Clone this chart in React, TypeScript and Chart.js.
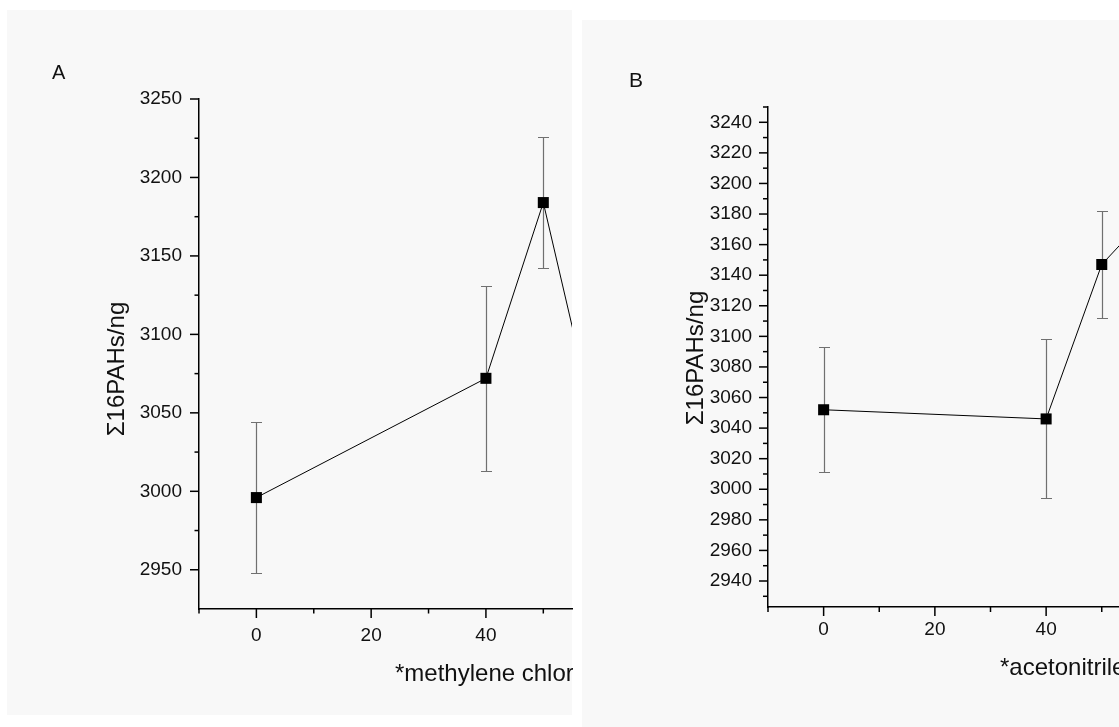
import { useEffect, useRef } from "react";
import { Chart, registerables } from "chart.js";

Chart.register(...registerables);

const FONT = "'Liberation Sans', Arial, Helvetica, sans-serif";

// ---------- Panel A : methylene chloride ----------
const A_DOSE = [0, 40, 50, 60];
const A_SUM = [2996, 3072, 3184, 3027];
const A_ERR: (number | null)[] = [48, 59, 42, null];
const A_X_MAJOR = [0, 20, 40];
const A_X_MINOR = [-10, 10, 30, 50];
const A_Y_MAJOR = [2950, 3000, 3050, 3100, 3150, 3200, 3250];
const A_Y_MINOR = [2975, 3025, 3075, 3125, 3175, 3225];

// ---------- Panel B : acetonitrile ----------
const B_DOSE = [0, 40, 50, 60];
const B_SUM = [3052, 3046, 3147, 3186];
const B_ERR: (number | null)[] = [41, 52, 35, null];
const B_X_MAJOR = [0, 20, 40];
const B_X_MINOR = [-10, 10, 30, 50];
const B_Y_MAJOR = [2940, 2960, 2980, 3000, 3020, 3040, 3060, 3080, 3100, 3120, 3140, 3160, 3180, 3200, 3220, 3240];
const B_Y_MINOR = [2930, 2950, 2970, 2990, 3010, 3030, 3050, 3070, 3090, 3110, 3130, 3150, 3170, 3190, 3210, 3230, 3250];

const Y_TITLE = "Σ16PAHs/ng";

const errorBarPlugin = {
  id: "errorBars",
  beforeDatasetsDraw(chart: any) {
    const { ctx, chartArea, scales } = chart;
    ctx.save();
    ctx.beginPath();
    ctx.rect(chartArea.left, chartArea.top, chartArea.right - chartArea.left + 8, chartArea.bottom - chartArea.top);
    ctx.clip();
    ctx.strokeStyle = "#707070";
    ctx.lineWidth = 1.2;
    chart.data.datasets.forEach((ds: any) => {
      const errs = ds.errors || [];
      ds.data.forEach((p: any, i: number) => {
        const e = errs[i];
        if (e == null) return;
        const x = Math.round(scales.x.getPixelForValue(p.x)) + 0.5;
        const yt = Math.round(scales.y.getPixelForValue(p.y + e)) + 0.5;
        const yb = Math.round(scales.y.getPixelForValue(p.y - e)) + 0.5;
        ctx.beginPath();
        ctx.moveTo(x, yt);
        ctx.lineTo(x, yb);
        ctx.moveTo(x - 5.5, yt);
        ctx.lineTo(x + 5.5, yt);
        ctx.moveTo(x - 5.5, yb);
        ctx.lineTo(x + 5.5, yb);
        ctx.stroke();
      });
    });
    ctx.restore();
  },
};

const axisTickPlugin = {
  id: "axisTicks",
  afterDraw(chart: any, _args: any, opts: any) {
    const { ctx, chartArea, scales } = chart;
    ctx.save();
    ctx.strokeStyle = "#000";
    ctx.lineWidth = 1.5;
    const drawX = (vals: number[], len: number) =>
      vals.forEach((v) => {
        const px = scales.x.getPixelForValue(v);
        if (px < chartArea.left - 1 || px > chartArea.right + 1) return;
        ctx.beginPath();
        ctx.moveTo(px, chartArea.bottom);
        ctx.lineTo(px, chartArea.bottom + len);
        ctx.stroke();
      });
    const drawY = (vals: number[], len: number) =>
      vals.forEach((v) => {
        const py = scales.y.getPixelForValue(v);
        if (py < chartArea.top - 1 || py > chartArea.bottom + 1) return;
        ctx.beginPath();
        ctx.moveTo(chartArea.left, py);
        ctx.lineTo(chartArea.left - len, py);
        ctx.stroke();
      });
    drawX(opts.xMajor, opts.majorLen);
    drawX(opts.xMinor, opts.minorLen);
    drawY(opts.yMajor, opts.majorLen);
    drawY(opts.yMinor, opts.minorLen);
    ctx.restore();
  },
};

const textPlugin = {
  id: "panelText",
  afterDraw(chart: any, _args: any, opts: any) {
    const { ctx } = chart;
    (opts.items || []).forEach((it: any) => {
      ctx.save();
      ctx.fillStyle = "#111";
      ctx.font = `${it.size}px ${FONT}`;
      ctx.textAlign = it.align || "left";
      ctx.textBaseline = it.baseline || "alphabetic";
      ctx.translate(it.x, it.y);
      if (it.rotate) ctx.rotate(it.rotate);
      ctx.fillText(it.text, 0, 0);
      ctx.restore();
    });
  },
};

function makeConfig(p: any): any {
  return {
    type: "line",
    data: {
      datasets: [
        {
          data: p.dose.map((d: number, i: number) => ({ x: d, y: p.sum[i] })),
          errors: p.err,
          borderColor: "#000",
          borderWidth: 1,
          tension: 0,
          fill: false,
          pointStyle: "rect",
          pointRadius: 7.8,
          pointBorderWidth: 0,
          pointBackgroundColor: "#000",
        },
      ],
    },
    options: {
      responsive: false,
      animation: false,
      devicePixelRatio: 1,
      events: [],
      layout: { padding: p.padding, autoPadding: false },
      plugins: {
        legend: { display: false },
        title: { display: false },
        tooltip: { enabled: false },
        axisTicks: { xMajor: p.xMajor, xMinor: p.xMinor, yMajor: p.yMajor, yMinor: p.yMinor, majorLen: p.majorLen, minorLen: p.minorLen },
        panelText: { items: p.texts },
      },
      scales: {
        x: {
          type: "linear",
          min: -10,
          max: p.xMax,
          grid: { display: false, drawTicks: false },
          border: { display: true, color: "#000", width: 1.5 },
          afterBuildTicks: (s: any) => {
            s.ticks = p.xMajor.map((v: number) => ({ value: v }));
          },
          afterFit: (s: any) => {
            s.height = 40;
          },
          ticks: {
            autoSkip: false,
            maxRotation: 0,
            padding: p.xPad,
            color: "#111",
            font: { family: FONT, size: 19 },
            callback: (v: any) => String(v),
          },
        },
        y: {
          type: "linear",
          min: p.yMin,
          max: p.yMax,
          grid: { display: false, drawTicks: false },
          border: { display: true, color: "#000", width: 1.5 },
          afterBuildTicks: (s: any) => {
            s.ticks = p.yMajor.map((v: number) => ({ value: v }));
          },
          afterFit: (s: any) => {
            s.width = p.yWidth;
          },
          ticks: {
            autoSkip: false,
            padding: p.yPad,
            color: "#111",
            font: { family: FONT, size: 19 },
            callback: (v: any) => String(v),
          },
        },
      },
    },
    plugins: [errorBarPlugin, axisTickPlugin, textPlugin],
  };
}

export default function App() {
  const refA = useRef<HTMLCanvasElement>(null);
  const refB = useRef<HTMLCanvasElement>(null);

  useEffect(() => {
    const a = new Chart(
      refA.current as HTMLCanvasElement,
      makeConfig({
        dose: A_DOSE,
        sum: A_SUM,
        err: A_ERR,
        xMajor: A_X_MAJOR,
        xMinor: A_X_MINOR,
        yMajor: A_Y_MAJOR,
        yMinor: A_Y_MINOR,
        xMax: 55,
        yMin: 2925,
        yMax: 3250,
        padding: { left: 0, top: 99, right: 1, bottom: 78 },
        yWidth: 199,
        xPad: 15,
        yPad: 17,
        majorLen: 9,
        minorLen: 4.5,
        texts: [
          { text: "A", x: 52, y: 79, size: 20 },
          { text: Y_TITLE, x: 117, y: 369, size: 24, rotate: -Math.PI / 2, align: "center", baseline: "middle" },
          { text: "*methylene chloride", x: 395, y: 681, size: 24 },
        ],
      })
    );
    const b = new Chart(
      refB.current as HTMLCanvasElement,
      makeConfig({
        dose: B_DOSE,
        sum: B_SUM,
        err: B_ERR,
        xMajor: B_X_MAJOR,
        xMinor: B_X_MINOR,
        yMajor: B_Y_MAJOR,
        yMinor: B_Y_MINOR,
        xMax: 53.1,
        yMin: 2923,
        yMax: 3250,
        padding: { left: 0, top: 107, right: 0, bottom: 80 },
        yWidth: 193,
        xPad: 11,
        yPad: 16,
        majorLen: 9,
        minorLen: 5,
        texts: [
          { text: "B", x: 54, y: 87, size: 21 },
          { text: Y_TITLE, x: 121, y: 358, size: 24, rotate: -Math.PI / 2, align: "center", baseline: "middle" },
          { text: "*acetonitrile", x: 425, y: 675, size: 24 },
        ],
      })
    );
    return () => {
      a.destroy();
      b.destroy();
    };
  }, []);

  return (
    <div style={{ position: "fixed", left: 0, top: 0, width: 1119, height: 727, overflow: "hidden", background: "#fff" }}>
      <div style={{ position: "absolute", left: 7, top: 10, width: 565, height: 705, background: "#f8f8f8" }} />
      <div style={{ position: "absolute", left: 582, top: 20, width: 537, height: 707, background: "#f8f8f8" }} />
      <canvas ref={refA} width={573} height={727} style={{ position: "absolute", left: 0, top: 0, width: 573, height: 727 }} />
      <canvas ref={refB} width={544} height={727} style={{ position: "absolute", left: 575, top: 0, width: 544, height: 727 }} />
    </div>
  );
}
